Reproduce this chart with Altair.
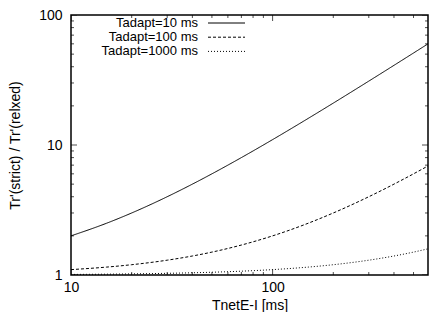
import altair as alt
import pandas as pd

# ---- data ----
series_names = ["Tadapt=10 ms", "Tadapt=100 ms", "Tadapt=1000 ms"]
x_vals = [10, 15, 20, 30, 40, 50, 70, 100, 150, 200, 300, 400, 500, 590]
ratio_10 = [2.0, 2.5, 3.0, 4.0, 5.0, 6.0, 8.0, 11.0, 16.0, 21.0, 31.0, 41.0, 51.0, 60.0]
ratio_100 = [1.1, 1.15, 1.2, 1.3, 1.4, 1.5, 1.7, 2.0, 2.5, 3.0, 4.0, 5.0, 6.0, 6.9]
ratio_1000 = [1.01, 1.015, 1.02, 1.03, 1.04, 1.05, 1.07, 1.1, 1.15, 1.2, 1.3, 1.4, 1.5, 1.59]

x_ticks_major = [10, 100]
x_ticks_minor = [20, 30, 40, 50, 60, 70, 80, 90, 200, 300, 400, 500]
y_ticks_major = [1, 10, 100]
y_ticks_minor = [2, 3, 4, 5, 6, 7, 8, 9, 20, 30, 40, 50, 60, 70, 80, 90]
x_domain = [10, 590]
y_domain = [1, 100]
x_title = "TnetE-I [ms]"
y_title = "Tr'(strict) / Tr'(relxed)"

dashes = [[1, 0], [3, 2], [1, 2]]
FONT = "Liberation Sans"
W, H = 357, 260

rows = []
for name, vals in zip(series_names, [ratio_10, ratio_100, ratio_1000]):
    for xv, yv in zip(x_vals, vals):
        rows.append({"x": xv, "y": yv, "series": name})
df = pd.DataFrame(rows)

xscale = alt.Scale(type="log", domain=x_domain, nice=False)
yscale = alt.Scale(type="log", domain=y_domain, nice=False)
xaxis = alt.Axis(values=x_ticks_major, ticks=False, tickSize=0, domain=False, grid=False,
                 labelPadding=5, titleY=34, titleBaseline="alphabetic",
                 format="d", labelFlush=False, labelOverlap=False)
yaxis = alt.Axis(values=y_ticks_major, ticks=False, tickSize=0, domain=False, grid=False,
                 labelPadding=9, titlePadding=16, format="d", labelFlush=False, labelOverlap=False)

def X():
    return alt.X("x:Q", scale=xscale, title=x_title, axis=xaxis)

def Y():
    return alt.Y("y:Q", scale=yscale, title=y_title, axis=yaxis)

lines = alt.Chart(df).mark_line(color="black", strokeWidth=1, interpolate="monotone", clip=True).encode(
    x=X(), y=Y(),
    strokeDash=alt.StrokeDash("series:N", scale=alt.Scale(domain=series_names, range=dashes), legend=None),
    detail="series:N",
)

xt = pd.DataFrame({"x": x_ticks_major + x_ticks_minor,
                   "sz": [12] * len(x_ticks_major) + [6] * len(x_ticks_minor)})
yt = pd.DataFrame({"y": y_ticks_major + y_ticks_minor,
                   "sz": [12] * len(y_ticks_major) + [6] * len(y_ticks_minor)})

def xtick_layer(ypos):
    return alt.Chart(xt).mark_tick(color="black", thickness=1, clip=True).encode(
        x=X(), y=alt.value(ypos),
        size=alt.Size("sz:Q", scale=None, legend=None),
    )

def ytick_layer(xpos):
    return alt.Chart(yt).mark_tick(color="black", thickness=1, clip=True).encode(
        y=Y(), x=alt.value(xpos),
        size=alt.Size("sz:Q", scale=None, legend=None),
    )

layers = [lines, xtick_layer(0), xtick_layer("height"), ytick_layer(0), ytick_layer("width")]

leg_df = pd.DataFrame({"label": series_names})
for i, name in enumerate(series_names):
    ypix = 8 + 14.2 * i
    layers.append(
        alt.Chart(leg_df[leg_df["label"] == name]).mark_text(
            align="right", baseline="middle", font=FONT, fontSize=13, color="black"
        ).encode(x=alt.value(127), y=alt.value(ypix), text="label:N")
    )
    layers.append(
        alt.Chart(leg_df[leg_df["label"] == name]).mark_rule(
            color="black", strokeWidth=1, strokeDash=dashes[i]
        ).encode(x=alt.value(137), x2=alt.value(174), y=alt.value(ypix))
    )

chart = alt.layer(*layers).properties(
    width=W, height=H,
    autosize=alt.AutoSizeParams(type="none"),
    padding={"left": 63, "top": 7, "right": 1, "bottom": 37},
).configure_view(
    stroke="black", strokeWidth=1.5
).configure_axis(
    labelFont=FONT, labelFontSize=14, labelColor="black",
    titleFont=FONT, titleFontSize=14, titleColor="black", titleFontWeight="normal",
)

chart.save("out.html", embed_options={"renderer": "svg", "actions": False})
